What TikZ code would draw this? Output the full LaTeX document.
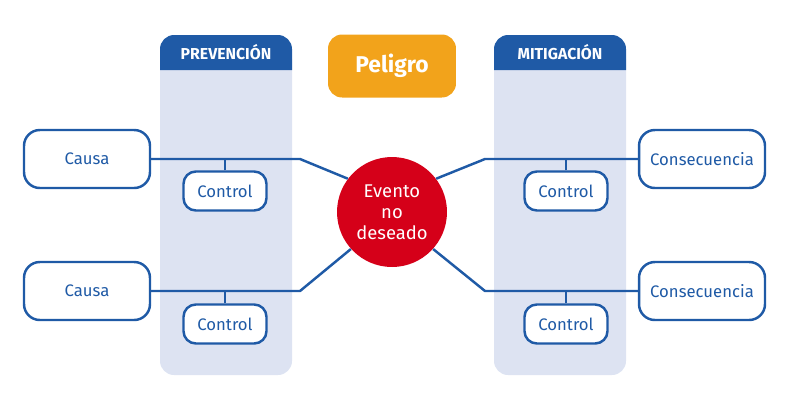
\documentclass[tikz,border=0pt]{standalone}
\usepackage{fontspec}
\setmainfont{Fira Sans}
\usetikzlibrary{positioning,calc}
\definecolor{azul}{HTML}{1F5AA6}
\definecolor{celeste}{HTML}{DDE3F2}
\definecolor{naranja}{HTML}{F2A31B}
\definecolor{rojo}{HTML}{D50019}
\tikzset{
	caja/.style={draw=azul,line width=1.4pt,fill=white,rounded corners=9pt,minimum width=2.52cm,minimum height=1.16cm,text=azul,font=\fontsize{9.5}{11}\selectfont},
	ctrl/.style={caja,minimum width=1.66cm,minimum height=0.78cm,rounded corners=7pt},
	cabeza/.style={fill=azul,text=white,font=\bfseries\fontsize{9}{11}\selectfont,minimum width=2.64cm,minimum height=0.7cm},
	linea/.style={azul,line width=1.4pt},
}
\begin{document}
\begin{tikzpicture}[x=0.02cm,y=-0.02cm]
	\useasboundingbox (0,0) rectangle (803,400);
	% columnas
	\fill[celeste,rounded corners=8pt] (160,45) rectangle (292,375);
	\fill[celeste,rounded corners=8pt] (494,45) rectangle (626,375);
	\fill[azul,rounded corners=8pt] (160,70) -- (160,35) -- (292,35) -- (292,70);
	\fill[azul,rounded corners=8pt] (494,70) -- (494,35) -- (626,35) -- (626,70);
	\fill[azul] (160,55) rectangle (292,70);
	\fill[azul] (494,55) rectangle (626,70);
	\node[cabeza,fill=none] (prev) at (226,52) {PREVENCIÓN};
	\node[cabeza,fill=none] (miti) at (560,52) {MITIGACIÓN};

	\node[fill=naranja,rounded corners=8pt,minimum width=2.56cm,minimum height=1.26cm,text=white,font=\bfseries\fontsize{13}{15}\selectfont] (peligro) at (392,66) {Peligro};
	\node[circle,fill=rojo,minimum size=2.2cm,inner sep=0pt,align=center,text=white,font=\fontsize{10.5}{12}\selectfont] (evento) at (392,212) {Evento\\no\\deseado};

	\node[caja] (causaA) at (87,159) {Causa};
	\node[caja] (causaB) at (87,291) {Causa};
	\node[caja] (consA) at (702,159) {Consecuencia};
	\node[caja] (consB) at (702,291) {Consecuencia};
	\node[ctrl] (ctrlA) at (225,191) {Control};
	\node[ctrl] (ctrlB) at (225,324) {Control};
	\node[ctrl] (ctrlC) at (566,191) {Control};
	\node[ctrl] (ctrlD) at (566,324) {Control};

	\coordinate (qA) at (300,159);
	\coordinate (qB) at (300,291);
	\coordinate (qC) at (485,159);
	\coordinate (qD) at (485,291);
	\draw[linea] (causaA.east) -- (qA) -- (evento.143);
	\draw[linea] (causaB.east) -- (qB) -- (evento.222);
	\draw[linea] (consA.west) -- (qC) -- (evento.37);
	\draw[linea] (consB.west) -- (qD) -- (evento.318);
	\draw[linea] (ctrlA.north) -- (ctrlA.north |- qA);
	\draw[linea] (ctrlB.north) -- (ctrlB.north |- qB);
	\draw[linea] (ctrlC.north) -- (ctrlC.north |- qC);
	\draw[linea] (ctrlD.north) -- (ctrlD.north |- qD);
\end{tikzpicture}
\end{document}
